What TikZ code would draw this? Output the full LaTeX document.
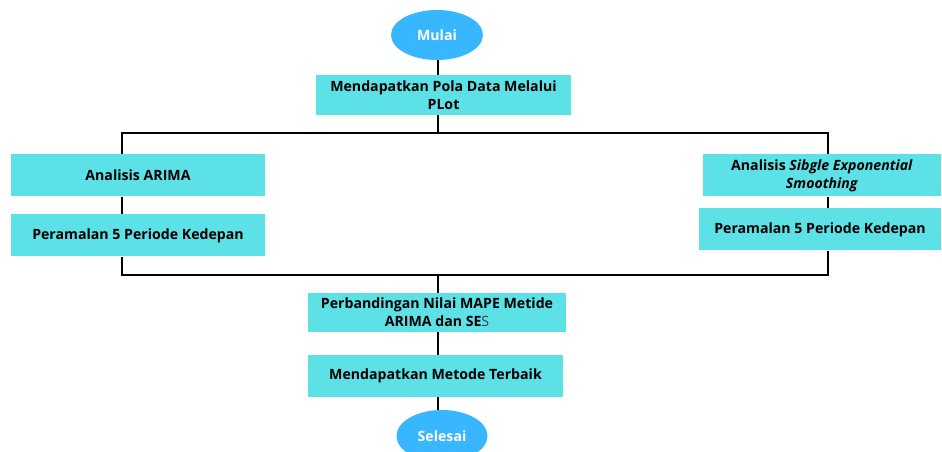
\documentclass[tikz,border=0pt]{standalone}
\usepackage{fontspec}
\setmainfont{Open Sans}
\usepackage{tikz}
\usetikzlibrary{calc}
\usetikzlibrary{shapes.geometric}

\definecolor{boxcyan}{HTML}{5CE1E6}
\definecolor{endblue}{HTML}{38B6FF}

\tikzset{
    flowbox/.style={fill=boxcyan,minimum height=42*0.02cm,align=center,
        font=\fontsize{8.05}{10.4}\selectfont\bfseries,inner sep=2pt},
    terminal/.style={ellipse,fill=endblue,minimum width=92*0.02cm,minimum height=50*0.02cm,
        text=white,font=\fontsize{8.05}{10.4}\selectfont\bfseries},
    flowline/.style={line width=1.3pt,black}
}

\begin{document}
\begin{tikzpicture}[x=0.02cm,y=-0.02cm]
        \useasboundingbox (0,0) rectangle (942,452);

        \node[terminal] (mulai) at (437,35) {Mulai};
        \node[flowbox,minimum width=255*0.02cm,minimum height=40*0.02cm] (pola) at (443.5,95) {Mendapatkan Pola Data Melalui\\PLot};

        \node[flowbox,minimum width=254*0.02cm] (arima) at (138,175.5) {Analisis ARIMA};
        \node[flowbox,minimum width=254*0.02cm] (ramalA) at (138,235.5) {Peramalan 5 Periode Kedepan};

        \node[flowbox,minimum width=238*0.02cm] (ses) at (822,175.5) {Analisis \textit{Sibgle Exponential}\\\textit{Smoothing}};
        \node[flowbox,minimum width=242*0.02cm] (ramalS) at (820,229.5) {Peramalan 5 Periode Kedepan};

        \node[flowbox,minimum width=258*0.02cm,minimum height=39*0.02cm] (banding) at (437,312.5) {Perbandingan Nilai MAPE Metide\\ARIMA dan SE{\mdseries\color{darkgray}S}};
        \node[flowbox,minimum width=255*0.02cm] (terbaik) at (435.5,376) {Mendapatkan Metode Terbaik};
        \node[terminal,minimum width=91*0.02cm,minimum height=52*0.02cm] (selesai) at (442,436) {Selesai};

        % cabang kiri dan kanan
        \coordinate (atasL) at (122,133);
        \coordinate (atasR) at (828,133);
        \coordinate (bawahL) at (122,275);
        \coordinate (bawahR) at (828,275);
        \coordinate (atasM) at (438,133);
        \coordinate (bawahM) at (438,275);

        \draw[flowline] (mulai.south -| atasM) -- (pola.north -| atasM);
        \draw[flowline] (pola.south -| atasM) -- (atasM);
        \draw[flowline,line cap=rect] (atasL) -- (atasR);
        \draw[flowline] (atasL) -- (atasL |- arima.north);
        \draw[flowline] (atasL |- arima.south) -- (atasL |- ramalA.north);
        \draw[flowline] (atasL |- ramalA.south) -- (bawahL);
        \draw[flowline] (atasR) -- (atasR |- ses.north);
        \draw[flowline] (atasR |- ses.south) -- (atasR |- ramalS.north);
        \draw[flowline] (atasR |- ramalS.south) -- (bawahR);
        \draw[flowline,line cap=rect] (bawahL) -- (bawahR);
        \draw[flowline] (bawahM) -- (banding.north -| bawahM);
        \draw[flowline] (banding.south -| bawahM) -- (terbaik.north -| bawahM);
        \draw[flowline] (terbaik.south -| bawahM) -- (selesai.north -| bawahM);
    \end{tikzpicture}
\end{document}
